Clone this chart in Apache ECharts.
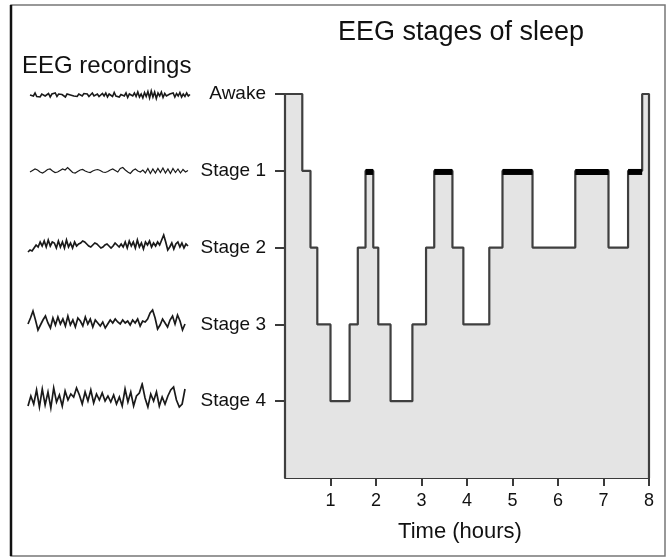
<!DOCTYPE html>
<html>
<head>
<meta charset="utf-8">
<script src="https://cdn.jsdelivr.net/npm/echarts@6/dist/echarts.min.js"></script>
<style>html,body{margin:0;padding:0;background:#fff}#c{width:670px;height:560px}</style>
</head>
<body>
<div id="c"></div>
<script>
// ---- Data ----
const stageNames = ['', 'Stage 4', 'Stage 3', 'Stage 2', 'Stage 1', 'Awake'];
const xTicks = [1, 2, 3, 4, 5, 6, 7, 8];
// Hypnogram: start time (hours) of each segment and its stage level (5 = Awake ... 1 = Stage 4)
const segStart = [0.00, 0.38, 0.56, 0.71, 1.00, 1.42, 1.60, 1.77, 1.94, 2.05, 2.32, 2.80, 3.10, 3.28, 3.68, 3.92, 4.49, 4.78, 5.44, 6.38, 7.11, 7.54, 7.85];
const segLevel = [5, 4, 3, 2, 1, 2, 3, 4, 3, 2, 1, 2, 3, 4, 3, 2, 3, 4, 3, 4, 3, 4, 5];
const endTime = 8.0;
// REM periods (black bars on Stage 1), hours
const remStart = [1.77, 3.28, 4.78, 6.38, 7.54];
const remEnd = [1.94, 3.68, 5.44, 7.11, 7.85];
// EEG traces (vertical deflection, px-like units, up positive)
const eegAwake = [0,1.5,-1,2,-1.5,0.5,-2,1,2.5,-1,0,1.5,-2,1,-0.5,2,-1.5,1,-1,0.5,2,-2,1,-0.5,0,1.5,-1,0.5,-1.5,1,0,-1,1.5,-0.5,1,-1.5,0.5,2,-1,0,1,-1.5,0.5,1.5,-1,2,-2,1,0,-1.5,2.5,-1,1,-2,0.5,1.5,-1,2,-2.5,1,0,-1,2,-1.5,3,-2,1,-3,2.5,-1.5,3.5,-3,4,-2,3,-3.5,2,-1,3,-2.5,1.5,-1,0.5,1,-1,2,-2,1.5,-1,2.5,-2,1,-1.5,2,-1,0.5];
const eegStage1 = [-1,0.5,2,1,-1,-2,-0.5,1.5,2,0,-1.5,-1,0.5,2, 1,3.5,1,-1.5,-2,-0.5, 1,1.5,0,-1,-1.5,0,1,1.5,0.5,-1,-1.5,-0.5,1,2,0.5,-1, 2.5,3.5,1,-1,-2.5,0.5,2,0,-1, 1,-2,2.5,-2.5,2,-2,2.5,-1.5,3,-2,2,-2.5,2.5,-1.5,2,-2,1.5,-1,0.5];
const eegStage2 = [-7,-5,-6,-3, 0,-2,3,-1,4,-2,5,-1,3,2,-3,4,-2,3,-3,5,-2,2,-3,3,-1,1, 2,4,3,1,-1,-2,0,2,1,-1,-3,-2,0,1,-1,-3,-1,2,0,-2, 1,-2,3,-3,4,-1,3,-3,5,-2,2,-4,3,0,4,-2,2,-1,3,0, 5,10,3,-5,-2,2,-4,1,3,-2,2,-3,1,-1];
const eegStage3 = [-2,4,11,2,-8,-3,2,6, -1,-6,4,-3,5,-2,3,-4,6,-3,2,-5,4,1,-4,5,-2,3,-5,2, -1,-4,0,-6,-2,2,-1,3,0,-2,2,-1, 1,-3,2,-1,3,-4,1,0,3,9,12,4, -7,-3,3,-1,-5,2,6,-2,7,1,-8,-2];
const eegStage4 = [-8,2,-6,8,-9,9,-7,6,-10,10,-4,3,-8,7,-2,4,1,10,3,-6,6,-3,8,-5,4,-2,5,-3,2,-4,3,-6,1,-8,9,-4,6,-8,2,5,14,0,-9,4,-3,6,-8,1,-6,2,8,11,-2,-9,-6,9];

// ---- Build ----
const hyp = [[0, 0]];
segStart.forEach((t, i) => hyp.push([t, segLevel[i]]));
hyp.push([endTime, segLevel[segLevel.length - 1]]);
hyp.push([endTime, 0]);

const traces = [
  {d: eegAwake, cy: 95, left: 30, w: 160, lw: 1.6},
  {d: eegStage1, cy: 171, left: 30, w: 158, lw: 1.2},
  {d: eegStage2, cy: 245, left: 28, w: 160, lw: 1.7},
  {d: eegStage3, cy: 322, left: 28, w: 157, lw: 1.7},
  {d: eegStage4, cy: 398, left: 28, w: 157, lw: 1.7}
];

const FONT = 'Liberation Sans';
const grids = [{left: 285, width: 364, top: 94, height: 384}];
const xAxes = [{
  gridIndex: 0, type: 'value', min: 0, max: 8, interval: 1,
  axisLine: {show: true, lineStyle: {color: '#3a3a3a', width: 2}},
  axisTick: {show: true, customValues: xTicks, length: 8, lineStyle: {color: '#3a3a3a', width: 2}},
  axisLabel: {customValues: xTicks, color: '#111', fontSize: 18, fontFamily: FONT, margin: 14},
  splitLine: {show: false},
  name: 'Time (hours)', nameLocation: 'middle', nameGap: 43,
  nameTextStyle: {color: '#111', fontSize: 22, fontFamily: FONT, padding: [0, 14, 0, 0]}
}];
const yAxes = [{
  gridIndex: 0, type: 'value', min: 0, max: 5, interval: 1,
  axisLine: {show: false},
  axisTick: {show: true, customValues: [1, 2, 3, 4, 5], length: 10, lineStyle: {color: '#3a3a3a', width: 2}},
  axisLabel: {customValues: [1, 2, 3, 4, 5], formatter: v => stageNames[v], color: '#111', fontSize: 19, fontFamily: FONT, margin: 19},
  splitLine: {show: false}
}];
const series = [{
  type: 'line', xAxisIndex: 0, yAxisIndex: 0, data: hyp, step: 'end',
  symbol: 'none', silent: true,
  lineStyle: {color: '#3f3f3f', width: 2.2},
  areaStyle: {color: '#e4e4e4', opacity: 1, origin: 'start'}
}];
remStart.forEach((s, i) => {
  series.push({type: 'line', xAxisIndex: 0, yAxisIndex: 0, symbol: 'none', silent: true,
    data: [[s, 3.985], [remEnd[i], 3.985]],
    lineStyle: {color: '#000', width: 6, cap: 'butt'}});
});
traces.forEach((t, k) => {
  const gi = k + 1;
  grids.push({left: t.left, width: t.w, top: t.cy - 15, height: 30});
  xAxes.push({gridIndex: gi, type: 'category', boundaryGap: false, data: t.d.map((_, i) => i), show: false});
  yAxes.push({gridIndex: gi, type: 'value', min: -15, max: 15, show: false});
  series.push({type: 'line', xAxisIndex: gi, yAxisIndex: gi, data: t.d, symbol: 'none', silent: true,
    lineStyle: {color: '#1a1a1a', width: t.lw, join: 'miter'}});
});

const chart = echarts.init(document.getElementById('c'), null, {renderer: 'canvas'});
chart.setOption({
  backgroundColor: '#fff',
  animation: false,
  grid: grids, xAxis: xAxes, yAxis: yAxes, series: series,
  graphic: [
    {type: 'rect', shape: {x: 11, y: 5, width: 654, height: 551}, style: {fill: 'none', stroke: '#777', lineWidth: 1.5}, silent: true},
    {type: 'line', shape: {x1: 11, y1: 5, x2: 11, y2: 556}, style: {stroke: '#111', lineWidth: 2.5}, silent: true},
    {type: 'text', x: 461, y: 33, style: {text: 'EEG stages of sleep', fontSize: 27, fontFamily: FONT, fill: '#111', textAlign: 'center', textVerticalAlign: 'middle'}},
    {type: 'text', x: 22, y: 66, style: {text: 'EEG recordings', fontSize: 24, fontFamily: FONT, fill: '#111', textAlign: 'left', textVerticalAlign: 'middle'}}
  ]
});
</script>
</body>
</html>
